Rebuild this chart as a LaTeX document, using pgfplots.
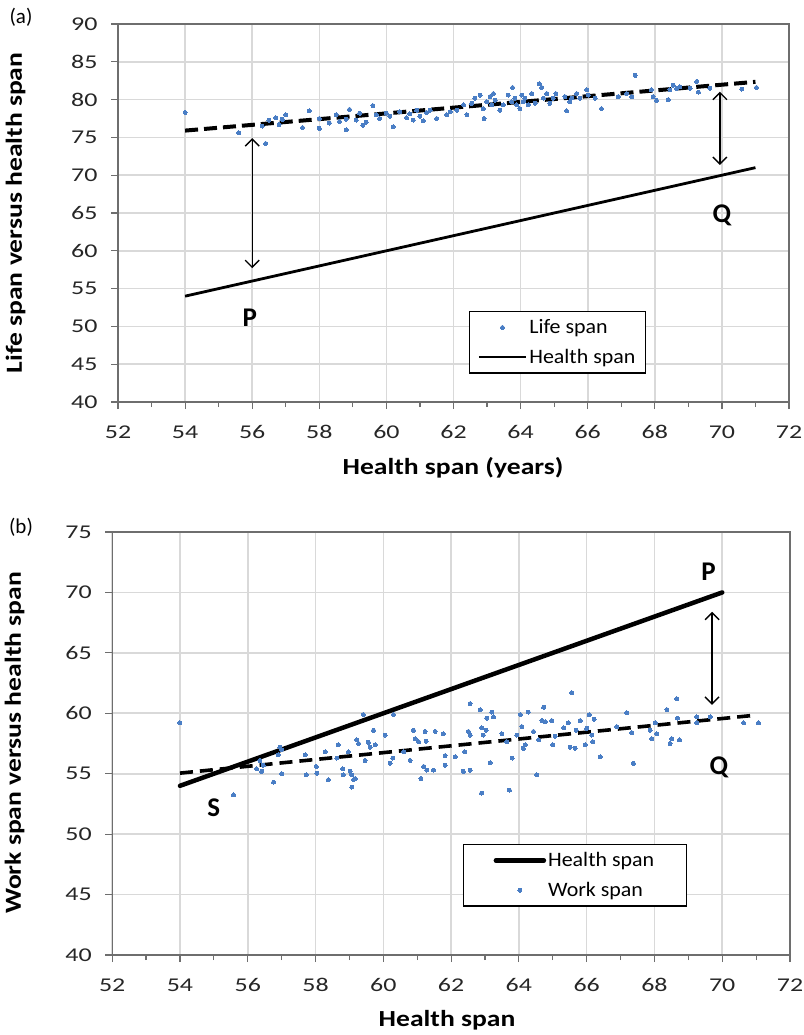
\documentclass[border=0pt]{standalone}
\usepackage{fontspec}
\setmainfont{Carlito}
\newfontfamily\tickfont[FakeStretch=1.33]{Carlito}
\newfontfamily\titlefont[FakeStretch=1.2]{Carlito}
\newfontfamily\legfont[FakeStretch=1.07]{Carlito}
\usepackage{pgfplots}
\pgfplotsset{compat=1.18}
\usetikzlibrary{arrows.meta}
\definecolor{ptblue}{RGB}{74,126,197}
\definecolor{gridgray}{RGB}{217,217,217}
\definecolor{axgray}{RGB}{110,110,110}

\pgfplotstableread{
x y
54.0 78.3
55.6 75.6
56.4 74.2
56.3 76.5
56.5 77.3
56.7 77.6
56.9 77.4
57.0 78.0
56.8 76.7
57.5 76.3
57.7 78.5
58.0 77.5
58.0 76.2
58.3 76.9
58.5 78.0
58.6 77.1
58.8 77.4
58.8 76.0
58.9 78.7
59.1 77.3
59.2 78.2
59.3 76.6
59.4 77.0
59.6 79.2
59.7 78.0
59.8 77.5
60.0 78.2
60.1 77.8
60.2 76.4
60.4 78.4
60.6 77.6
60.7 78.1
60.8 77.3
60.9 78.6
61.0 77.8
61.1 77.2
61.2 78.3
61.3 78.6
61.5 77.5
61.8 78.0
61.9 78.4
62.1 78.6
62.3 79.3
62.4 78.0
62.54 79.5
62.64 80.2
62.79 80.6
62.89 78.8
62.91 77.5
62.99 79.7
63.09 80.4
63.14 79.3
63.19 80.8
63.24 79.9
63.38 78.6
63.48 79.3
63.63 80.6
63.73 79.7
63.76 81.6
63.83 80.2
63.88 79.3
63.98 78.8
64.03 80.6
64.08 79.7
64.13 80.2
64.23 79.3
64.33 80.8
64.43 79.5
64.56 82.1
64.63 81.6
64.68 80.2
64.78 80.8
64.87 79.5
64.97 80.2
65.05 80.8
65.32 80.4
65.37 78.5
65.47 79.7
65.52 80.2
65.67 80.8
65.77 80.2
65.97 81.3
66.02 80.6
66.22 80.2
66.41 78.8
66.91 80.4
67.16 80.8
67.31 80.4
67.41 83.2
67.9 81.3
67.95 80.4
68.05 79.9
68.4 80.0
68.45 81.3
68.55 81.9
68.65 81.5
68.75 81.7
69.05 81.5
69.25 82.4
69.3 81.0
69.64 81.5
70.59 81.4
71.03 81.6
}\lifespan

\pgfplotstableread{
x y
54.0 59.2
55.58 53.24
56.26 55.4
56.36 56.1
56.41 55.2
56.46 55.7
56.76 54.3
56.9 56.55
56.95 57.2
57.0 57.0
57.0 55.0
57.69 56.55
57.72 54.9
58.02 55.6
58.04 55.03
58.28 56.8
58.38 54.5
58.63 56.3
58.67 57.4
58.8 55.4
58.82 54.9
58.97 56.8
59.02 55.2
59.07 54.9
59.07 53.9
59.12 54.5
59.17 54.6
59.22 57.8
59.27 57.5
59.41 59.9
59.46 56.1
59.56 57.6
59.61 57.2
59.71 58.6
59.76 57.4
60.05 58.2
60.2 55.86
60.28 56.3
60.3 59.9
60.6 56.8
60.79 56.1
60.89 58.6
60.94 57.9
61.04 57.65
61.11 54.6
61.19 55.6
61.23 58.5
61.26 57.7
61.28 55.3
61.48 55.3
61.53 58.5
61.77 58.3
61.82 56.5
61.82 55.7
62.12 56.4
62.36 55.2
62.4 56.8
62.51 58.5
62.56 60.8
62.56 58.2
62.56 55.3
62.86 60.3
62.9 58.8
62.95 58.2
63.03 58.6
63.05 59.6
63.2 60.1
63.25 59.7
63.15 55.9
62.9 53.4
63.5 58.3
63.64 57.65
63.8 56.3
63.72 53.65
63.94 58.2
64.04 59.9
64.09 58.9
64.13 57.1
64.19 57.4
64.28 60.1
64.43 58.5
64.53 54.9
64.58 57.8
64.68 59.4
64.73 60.5
64.78 59.3
64.97 59.4
65.0 57.4
65.07 58.1
65.32 58.8
65.46 59.2
65.51 57.2
65.56 61.7
65.66 57.1
65.69 58.6
65.81 59.4
65.96 57.4
66.0 58.75
66.08 59.86
66.15 58.2
66.18 57.65
66.22 59.5
66.4 56.4
66.89 58.9
67.18 60.05
67.33 58.4
67.38 55.86
67.87 58.6
67.92 57.9
68.02 59.2
68.07 58.3
68.37 60.3
68.46 57.5
68.51 57.9
68.66 61.2
68.68 59.6
68.74 57.8
69.25 59.7
69.25 59.2
69.65 59.7
70.63 59.2
71.07 59.2
}\workspan

\pgfplotsset{
 myaxis/.style={
  scale only axis,
  xmin=52, xmax=72, xtick={52,54,...,72},
  minor x tick num=1,
  grid=major,
  major grid style={gridgray, line width=1.6pt},
  axis line style={axgray, line width=1.4pt},
  tick pos=left, tick align=outside,
  major tick length=7pt, minor tick length=5pt,
  every tick/.style={axgray, line width=1.2pt},
  ticklabel style={font=\tickfont\fontsize{19.5}{20}\selectfont, color=black!85},
  xticklabel style={yshift=-13pt},
  yticklabel style={xshift=-10pt},
  /pgf/number format/assume math mode=true,
  clip=false,
  legend cell align=left,
 },
 dotstyle/.style={ptblue, only marks, mark=*, mark size=2pt, mark options={solid, draw=ptblue, fill=ptblue, line width=0pt}},
 legdot/.style={legend image code/.code={\path (0pt,0pt) (#1,0pt); \draw[##1] plot coordinates {(0.5*#1,0pt)};}},
 legline/.style={legend image code/.code={\draw[##1] (0pt,0pt) -- (#1,0pt);}},
}

\begin{document}
\begin{tikzpicture}[x=1pt,y=1pt]
\path[use as bounding box] (0,0) rectangle (803,-1035);

% ---------- panel (a) ----------
\begin{axis}[myaxis, at={(118pt,-402pt)}, anchor=south west,
  width=671pt, height=378pt,
  ymin=40, ymax=90, ytick={40,45,...,90},
  legend style={at={(axis description cs:0.523,0.2407)}, anchor=north west,
    draw=black, line width=1.2pt, font=\legfont\fontsize{20.5}{22}\selectfont,
    inner xsep=8pt, inner ysep=6pt, row sep=10pt,
    nodes={inner xsep=2pt, inner ysep=2pt}}]
\addplot[dotstyle, legdot=47pt] table {\lifespan};
\addlegendentry{Life span}
\addplot[black, line width=4pt, dash pattern=on 13pt off 6pt, forget plot] coordinates {(54,75.9) (71,82.35)};
\addplot[black, line width=2.8pt, legline=47pt] coordinates {(54,54) (71,71)};
\addlegendentry{Health span}
\draw[{Straight Barb[length=7pt,width=14pt]}-{Straight Barb[length=7pt,width=14pt]}, line width=1.4pt]
  (axis cs:56,57.7) -- (axis cs:56,74.9);
\draw[{Straight Barb[length=7pt,width=14pt]}-{Straight Barb[length=7pt,width=14pt]}, line width=1.4pt]
  (axis cs:69.94,71.35) -- (axis cs:69.94,81.05);
\node[font=\bfseries\fontsize{27}{30}\selectfont] at (axis cs:55.93,51.1) {P};
\node[font=\bfseries\fontsize{27}{30}\selectfont] at (axis cs:70.0,64.7) {Q};
\end{axis}
\node[font=\fontsize{21}{22}\selectfont] at (21,-17) {(a)};
\node[rotate=90, font=\titlefont\bfseries\fontsize{23}{26}\selectfont] at (15.5,-213) {Life span versus health span};
\node[font=\titlefont\bfseries\fontsize{23}{26}\selectfont] at (453,-468) {Health span (years)};

% ---------- panel (b) ----------
\begin{axis}[myaxis, at={(112.2pt,-955pt)}, anchor=south west,
  width=677.8pt, height=423pt,
  ymin=40, ymax=75, ytick={40,45,...,75},
  legend style={at={(axis description cs:0.5176,0.2624)}, anchor=north west,
    draw=black, line width=1.2pt, font=\legfont\fontsize{20.5}{22}\selectfont,
    inner xsep=30pt, inner ysep=6pt, row sep=10pt,
    nodes={inner xsep=2pt, inner ysep=2pt}}]
\addplot[black, line width=4.5pt, line cap=round, legline=48pt] coordinates {(54,54) (70,70)};
\addlegendentry{Health span}
\addplot[dotstyle, legdot=48pt] table {\workspan};
\addlegendentry{Work span}
\addplot[black, line width=3.6pt, dash pattern=on 13pt off 7pt, forget plot] coordinates {(54,55.05) (71,59.85)};
\draw[{Straight Barb[length=7pt,width=14pt]}-{Straight Barb[length=7pt,width=14pt]}, line width=1.4pt]
  (axis cs:69.7,60.7) -- (axis cs:69.7,68.4);
\node[font=\bfseries\fontsize{27}{30}\selectfont] at (axis cs:69.6,71.7) {P};
\node[font=\bfseries\fontsize{27}{30}\selectfont] at (axis cs:69.9,55.5) {Q};
\node[font=\bfseries\fontsize{27}{30}\selectfont] at (axis cs:55.0,52.2) {S};
\end{axis}
\node[font=\fontsize{21}{22}\selectfont] at (21,-527) {(b)};
\node[rotate=90, font=\titlefont\bfseries\fontsize{23}{26}\selectfont] at (14.5,-743) {Work span versus health span};
\node[font=\titlefont\bfseries\fontsize{23}{26}\selectfont] at (447,-1020) {Health span};
\end{tikzpicture}
\end{document}
